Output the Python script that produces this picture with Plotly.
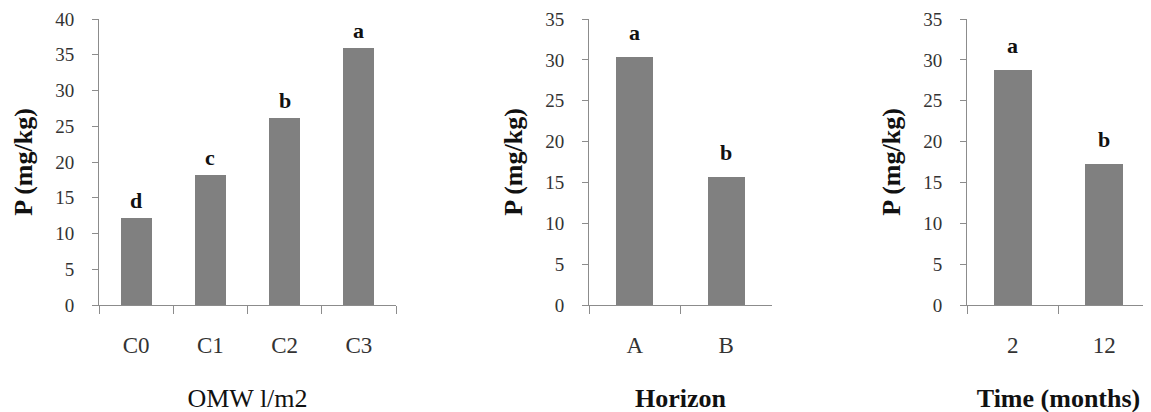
import plotly.graph_objects as go

# ---- data ----
omw_cats = ["C0", "C1", "C2", "C3"]
omw_vals = [12.1, 18.2, 26.2, 36.0]
omw_letters = ["d", "c", "b", "a"]

hor_cats = ["A", "B"]
hor_vals = [30.3, 15.7]
hor_letters = ["a", "b"]

time_cats = ["2", "12"]
time_vals = [28.8, 17.3]
time_letters = ["a", "b"]

y_title = "P (mg/kg)"
x_titles = ["OMW l/m2", "<b>Horizon</b>", "<b>Time (months)</b>"]
y_max = [40, 35, 35]

W, H = 1151, 412
OFF = 8  # page body margin
BAR = "#808080"
AX = "#8c8c8c"
SERIF = "Liberation Serif, Times New Roman, serif"

panels = [
    (omw_cats, omw_vals, omw_letters, 99, 396, 0.42, 3),
    (hor_cats, hor_vals, hor_letters, 589, 772, 0.40, 10),
    (time_cats, time_vals, time_letters, 967, 1150, 0.41, 10),
]
y_bottom_px, y_top_px = 305, 19
ydom = [(H - (y_bottom_px - OFF)) / H, (H - (y_top_px - OFF)) / H]

fig = go.Figure()
annotations = []
for i, (cats, vals, letters, x0, x1, bw, ysh) in enumerate(panels):
    n = "" if i == 0 else str(i + 1)
    fig.add_trace(go.Bar(
        x=cats, y=vals, width=[bw] * len(cats),
        marker=dict(color=BAR, line=dict(width=0)),
        xaxis="x" + n, yaxis="y" + n, showlegend=False, hoverinfo="skip",
    ))
    for j, (v, l) in enumerate(zip(vals, letters)):
        annotations.append(dict(
            x=j, y=v, xref="x" + n, yref="y" + n, text="<b>%s</b>" % l,
            showarrow=False, yanchor="bottom", yshift=ysh,
            font=dict(family=SERIF, size=22, color="#111"),
        ))
    fig.update_layout(**{
        "xaxis" + n: dict(
            domain=[(x0 - OFF) / W, (x1 - OFF) / W], anchor="y" + n,
            type="category", categoryorder="array", categoryarray=cats,
            range=[-0.5, len(cats) - 0.5],
            showline=True, linecolor=AX, linewidth=1,
            ticks="outside", ticklen=8, tickcolor=AX, tickwidth=1,
            tickson="boundaries", showgrid=False, zeroline=False,
            ticklabelstandoff=19,
            tickfont=dict(family=SERIF, size=23, color="#333"),
            title=dict(text=x_titles[i], standoff=32,
                       font=dict(family=SERIF, size=26, color="#111")),
            automargin=False, fixedrange=True,
        ),
        "yaxis" + n: dict(
            domain=ydom, anchor="x" + n, range=[0, y_max[i]],
            dtick=5, showline=True, linecolor=AX, linewidth=1,
            ticks="outside", ticklen=6, tickcolor=AX, tickwidth=1,
            showgrid=False, zeroline=False, ticklabelstandoff=14,
            tickfont=dict(family=SERIF, size=19, color="#333"),
            title=dict(text="<b>%s</b>" % y_title, standoff=15,
                       font=dict(family=SERIF, size=26, color="#111")),
            automargin=False, fixedrange=True,
        ),
    })

fig.update_layout(
    width=W, height=H, margin=dict(l=0, r=0, t=0, b=0, autoexpand=False),
    paper_bgcolor="white", plot_bgcolor="white",
    annotations=annotations, bargap=0,
)
fig.write_html("out.html")
